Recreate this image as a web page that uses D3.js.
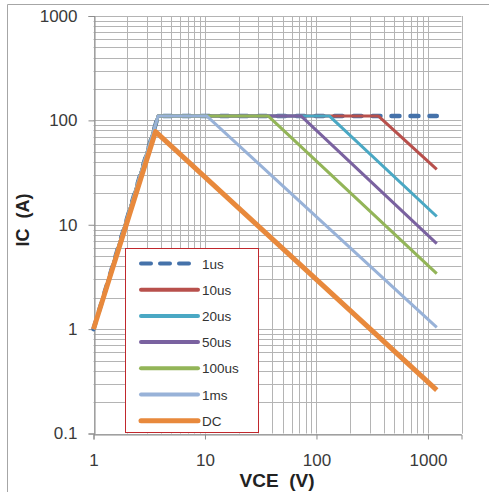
<!DOCTYPE html>
<html>
<head>
<meta charset="utf-8">
<script src="https://cdn.jsdelivr.net/npm/d3@7"></script>
<style>
  body { margin: 0; background: #fff; }
  svg { display: block; font-family: "Liberation Sans", Arial, sans-serif; }
</style>
</head>
<body>
<div id="chart"></div>
<script>
// safe operating area curves
var seriesNames = ["1us", "10us", "20us", "50us", "100us", "1ms", "DC"];
var seriesColors = ["#4572aa", "#b8504c", "#4aa8c4", "#7a62a0", "#93b558", "#98b2d8", "#e8893c"];
var vce1us = [1, 3.8, 1200];       var ic1us = [1, 110, 110];
var vce10us = [1, 3.8, 360, 1200]; var ic10us = [1, 110, 110, 34];
var vce20us = [1, 3.8, 131, 1200]; var ic20us = [1, 110, 110, 12];
var vce50us = [1, 3.8, 73, 1200];  var ic50us = [1, 110, 110, 6.6];
var vce100us = [1, 3.8, 37, 1200]; var ic100us = [1, 110, 110, 3.4];
var vce1ms = [1, 3.8, 10.4, 1200]; var ic1ms = [1, 110, 110, 1.04];
var vceDC = [1, 3.6, 1200];        var icDC = [1, 78, 0.26];
var xTicks = [1, 10, 100, 1000];
var yTicks = [0.1, 1, 10, 100, 1000];

var series = [
  {vce: vce1us, ic: ic1us},
  {vce: vce10us, ic: ic10us},
  {vce: vce20us, ic: ic20us},
  {vce: vce50us, ic: ic50us},
  {vce: vce100us, ic: ic100us},
  {vce: vce1ms, ic: ic1ms},
  {vce: vceDC, ic: icDC}
].map(function(s, i) {
  return {
    name: seriesNames[i],
    color: seriesColors[i],
    points: s.vce.map(function(v, j) { return [v, s.ic[j]]; })
  };
});

var width = 489, height = 492;
var svg = d3.select("#chart").append("svg")
    .attr("width", width)
    .attr("height", height);

// chart frame (left + top only visible)
svg.append("line").attr("x1", 7.5).attr("x2", 7.5).attr("y1", 4.5).attr("y2", height)
    .attr("stroke", "#a6a6a6");
svg.append("line").attr("x1", 7.5).attr("x2", width).attr("y1", 4.5).attr("y2", 4.5)
    .attr("stroke", "#a6a6a6");

var x = d3.scaleLog().domain([1, 2000]).range([93.5, 461.5]);
var y = d3.scaleLog().domain([0.1, 1000]).range([433.5, 16]);

var grid = svg.append("g").attr("stroke", "#b4b4b4").attr("stroke-width", 1);

// minor + major grid lines
var xGrid = [];
for (var d = 1; d < 2000; d *= 10) {
  for (var k = 1; k < 10; k++) { if (d * k <= 2000) xGrid.push(d * k); }
}
xGrid.push(2000);
var yGrid = [];
for (var e = 0.1; e < 1000; e *= 10) {
  for (var m = 1; m < 10; m++) yGrid.push(e * m);
}
yGrid.push(1000);

grid.selectAll(".vx").data(xGrid).enter().append("line")
    .attr("x1", function(d) { return Math.round(x(d)) + 0.5; })
    .attr("x2", function(d) { return Math.round(x(d)) + 0.5; })
    .attr("y1", y(1000)).attr("y2", y(0.1));
grid.selectAll(".hy").data(yGrid).enter().append("line")
    .attr("y1", function(d) { return Math.round(y(d)) + 0.5; })
    .attr("y2", function(d) { return Math.round(y(d)) + 0.5; })
    .attr("x1", x(1)).attr("x2", x(2000));

// axes
var xAxis = d3.axisBottom(x).tickValues(xTicks).tickFormat(d3.format("d")).tickSize(5).tickPadding(14);
var yAxis = d3.axisLeft(y).tickValues(yTicks).tickFormat(function(d) { return d < 1 ? "0.1" : d3.format("d")(d); })
    .tickSize(6).tickPadding(11);

var gx = svg.append("g").attr("transform", "translate(0," + (Math.round(y(0.1)) + 0.5) + ")").call(xAxis);
var gy = svg.append("g").attr("transform", "translate(" + (Math.round(x(1)) + 0.5) + ",0)").call(yAxis);
[gx, gy].forEach(function(g) {
  g.select(".domain").attr("stroke", "#8c8c8c");
  g.selectAll(".tick line").attr("stroke", "#8c8c8c");
  g.selectAll(".tick text").attr("fill", "#3a3a3a")
      .style("font-size", "17px")
      .style("font-family", "\"Liberation Sans\", Arial, sans-serif");
});

// curves: 1us at the bottom, DC on top (like the original)
var line = d3.line()
    .x(function(d) { return x(d[0]); })
    .y(function(d) { return y(d[1]); });

svg.append("g").selectAll("path")
    .data(series)
    .enter().append("path")
    .attr("d", function(d) { return line(d.points); })
    .attr("fill", "none")
    .attr("stroke", function(d) { return d.color; })
    .attr("stroke-width", function(d) { return d.name === "DC" ? 5 : (d.name === "1us" ? 4.5 : 3); })
    .attr("stroke-linecap", function(d) { return d.name === "1us" ? "round" : "butt"; })
    .attr("stroke-linejoin", "round")
    .attr("stroke-dasharray", function(d) { return d.name === "1us" ? "8,11" : null; });

// legend
var legend = svg.append("g");
legend.append("rect")
    .attr("x", 125.5).attr("y", 248.5).attr("width", 133).attr("height", 184)
    .attr("fill", "#fff").attr("stroke", "#c0282d").attr("stroke-width", 1);
var item = legend.selectAll(".item").data(series).enter().append("g")
    .attr("transform", function(d, i) { return "translate(0," + (263.5 + i * 26.2) + ")"; });
item.append("line")
    .attr("x1", 141).attr("x2", 198).attr("y1", 0).attr("y2", 0)
    .attr("stroke", function(d) { return d.color; })
    .attr("stroke-width", function(d) { return d.name === "DC" ? 5 : 4; })
    .attr("stroke-linecap", "round")
    .attr("stroke-dasharray", function(d) { return d.name === "1us" ? "10,9" : null; });
item.append("text")
    .attr("x", 202).attr("y", 5)
    .attr("fill", "#333")
    .style("font-size", "13.5px")
    .text(function(d) { return d.name; });

// axis titles
svg.append("text")
    .attr("transform", "translate(29,220) rotate(-90)")
    .attr("text-anchor", "middle")
    .style("font-size", "18px").style("font-weight", "bold").attr("fill", "#222")
    .attr("xml:space", "preserve")
    .text("IC  (A)");
svg.append("text")
    .attr("x", 277).attr("y", 487)
    .attr("text-anchor", "middle")
    .style("font-size", "19px").style("font-weight", "bold").attr("fill", "#222")
    .attr("xml:space", "preserve")
    .text("VCE  (V)");
</script>
</body>
</html>
